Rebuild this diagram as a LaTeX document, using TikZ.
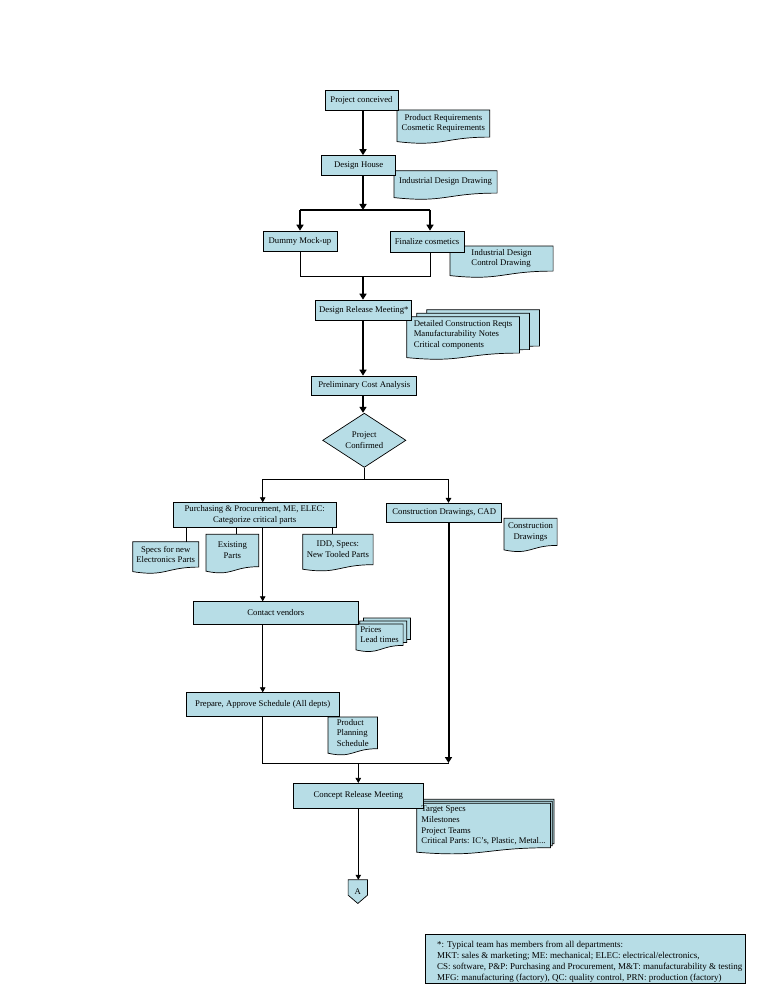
\documentclass[tikz,border=0pt]{standalone}
\usepackage{fontspec}
\setmainfont{Liberation Serif}
\usepackage{tikz}
\usetikzlibrary{arrows.meta,shapes.geometric,calc,backgrounds}

\definecolor{boxfill}{RGB}{183,221,230}

\newcommand{\docsheet}[3]{%
    \draw[docline] ($(#1.north west)+(#2,#3)$) -- ($(#1.north east)+(#2,#3)$)
        -- ($(#1.south east)+(#2,#3)$)
        .. controls ($(#1.south)+(#2,#3)$) and ($(#1.south)+(#2,#3+10)$)
        .. ($(#1.south west)+(#2,#3+4.5)$) -- cycle;}
\newcommand{\docstack}[3]{%
    \docsheet{#1}{2*#2}{2*#3}\docsheet{#1}{#2}{#3}\docsheet{#1}{0}{0}}

\begin{document}
\begin{tikzpicture}[x=1pt, y=-1pt,
    every node/.style={font=\fontsize{8.7}{10.7}\selectfont},
    process/.style={rectangle, draw, fill=boxfill, line width=0.7pt, inner sep=1pt},
    decision/.style={diamond, draw, fill=boxfill, line width=0.7pt, inner sep=0pt, align=center},
    doc/.style={rectangle, draw=none, inner sep=0pt, anchor=north west},
    docline/.style={draw, fill=boxfill, line width=0.7pt},
    thinline/.style={line width=0.7pt},
    medline/.style={line width=1.2pt},
    thickline/.style={line width=2pt},
    flow/.style={-{Triangle[length=5pt, width=5.5pt]}},
    bigflow/.style={-{Triangle[length=6pt, width=7pt]}}
    ]
    \useasboundingbox (0,0) rectangle (756,1008);

    \node (Step01) [process, minimum width=73pt, minimum height=20pt] at (361.5,100) {Project conceived};
    \node (Step02) [process, minimum width=74pt, minimum height=19.5pt] at (358.7,165.3) {Design House};
    \node (Step03) [process, minimum width=74pt, minimum height=20.5pt] at (300,241.3) {Dummy Mock-up};
    \node (Step04) [process, minimum width=74pt, minimum height=21pt] at (427,241.5) {Finalize cosmetics};
    \node (Step05) [process, minimum width=96pt, minimum height=20.5pt] at (363.8,310.3) {Design Release Meeting*};
    \node (Step06) [process, minimum width=105pt, minimum height=19pt] at (364.3,385.5) {Preliminary Cost Analysis};
    \node (Step07) [decision, minimum width=83.3pt, minimum height=37.3pt] at (364.3,440.3) {Project\\Confirmed};
    \node (Step08) [process, align=center, minimum width=162.7pt, minimum height=24.6pt] at (254.7,515)
        {Purchasing \& Procurement, ME, ELEC:\\Categorize critical parts};
    \node (Step09) [process, minimum width=115pt, minimum height=19pt] at (444.2,512.8) {Construction Drawings, CAD};
    \node (Step10) [process, minimum width=165pt, minimum height=22.6pt] at (275.8,613) {Contact vendors};
    \node (Step11) [process, minimum width=153.3pt, minimum height=24pt] at (262.7,704.7) {Prepare, Approve Schedule (All depts)};
    \node (Step12) [process, minimum width=130pt, minimum height=25pt] at (358.3,795.8) {Concept Release Meeting};
    \node (ConnA) [inner sep=0pt, minimum width=19pt, minimum height=23.3pt] at (357.8,891.6) {A};

    \node (Doc01) [doc, align=center, minimum width=92.3pt, minimum height=26.7pt] at (397,110)
        {Product Requirements\\Cosmetic Requirements};
    \node (Doc02) [doc, minimum width=102.7pt, minimum height=22pt] at (394,170.7) {Industrial Design Drawing};
    \node (Doc03) [doc, align=left, minimum width=102.7pt, minimum height=24.7pt] at (450,246)
        {Industrial Design\\Control Drawing};
    \node (Doc04) [doc, align=left, minimum width=112.3pt, minimum height=36pt] at (406.7,316.7)
        {Detailed Construction Reqts\\Manufacturability Notes\\Critical components};
    \node (Doc05) [doc, align=center, minimum width=65.6pt, minimum height=25pt] at (132.7,541.7)
        {Specs for new\\Electronics Parts};
    \node (Doc06) [doc, align=center, minimum width=52.3pt, minimum height=32pt] at (206,534.3) {Existing\\Parts};
    \node (Doc07) [doc, align=center, minimum width=70pt, minimum height=30pt] at (302.7,534.3)
        {IDD, Specs:\\New Tooled Parts};
    \node (Doc08) [doc, align=center, minimum width=52.7pt, minimum height=26.7pt] at (504,518.3)
        {Construction\\Drawings};
    \node (Doc09) [doc, align=left, minimum width=46.7pt, minimum height=21pt] at (356,624) {Prices\\Lead times};
    \node (Doc10) [doc, align=left, minimum width=49pt, minimum height=31.3pt] at (328,717)
        {Product\\Planning\\Schedule};
    \node (Doc11) [doc, align=left, minimum width=133.3pt, minimum height=44pt] at (416.7,803.3)
        {Target Specs\\Milestones\\Project Teams\\Critical Parts: IC's, Plastic, Metal...};

    \node (Legend) [anchor=west, align=left, inner sep=0pt, font=\fontsize{9}{11}\selectfont] at (437,962)
        {*: Typical team has members from all departments:\\
         MKT: sales \& marketing; ME: mechanical; ELEC: electrical/electronics,\\
         CS: software, P\&P: Purchasing and Procurement, M\&T: manufacturability \& testing\\
         MFG: manufacturing (factory), QC: quality control, PRN: production (factory)};

    \coordinate (Spine) at (363,0);
    \coordinate (SplitL) at (300,210);
    \coordinate (SplitM) at (363,210);
    \coordinate (SplitR) at (430,210);
    \coordinate (JoinL) at (300,276);
    \coordinate (JoinM) at (363,276);
    \coordinate (JoinR) at (430,276);
    \coordinate (Split2L) at (262.7,479);
    \coordinate (Split2R) at (448.5,479);
    \coordinate (Join2L) at (262.7,763);
    \coordinate (Join2M) at (358.3,763);
    \coordinate (Join2R) at (448.5,763);

    \draw[thickline, bigflow] (Step01.south -| Spine) -- (Step02.north -| Spine);
    \draw[thickline, bigflow] (Step02.south -| Spine) -- (SplitM);
    \draw[thickline] (SplitL) -- (SplitR);
    \draw[thickline, bigflow] (SplitL) -- (SplitL |- Step03.north);
    \draw[thickline, bigflow] (SplitR) -- (SplitR |- Step04.north);
    \draw[thinline] (SplitL |- Step03.south) -- (JoinL) -- (JoinR) -- (SplitR |- Step04.south);
    \draw[thickline, bigflow] (JoinM) -- (JoinM |- Step05.north);
    \draw[thickline, bigflow] (Step05.south -| Spine) -- (Step06.north -| Spine);
    \draw[thickline, bigflow] (Step06.south -| Spine) -- (Step07.north -| Spine);
    \draw[thinline] (Step07.south) -- (Step07.south |- Split2L);
    \draw[thinline] (Split2L) -- (Split2R);
    \draw[thinline, flow] (Split2L) -- (Split2L |- Step08.north);
    \draw[medline, flow] (Split2R) -- (Split2R |- Step09.north);
    \foreach \x/\d in {186.7/Doc05, 236/Doc06, 332.3/Doc07}
        \draw[thinline] (Step08.south -| \x,0) -- (\d.north -| \x,0);
    \draw[thinline, flow] (Split2L |- Step08.south) -- (Split2L |- Step10.north);
    \draw[thinline, flow] (Split2L |- Step10.south) -- (Split2L |- Step11.north);
    \draw[thinline] (Split2L |- Step11.south) -- (Join2L) -- (Join2R);
    \draw[thickline, bigflow] (Step09.south -| Join2R) -- (Join2R);
    \draw[thinline, flow] (Join2M) -- (Join2M |- Step12.north);
    \draw[thinline, flow] (Step12.south -| Join2M) -- (ConnA.north -| Join2M);

    \begin{scope}[on background layer]
        \foreach \d in {Doc01,Doc02,Doc03,Doc05,Doc06,Doc07,Doc08,Doc10}
            {\docsheet{\d}{0}{0}}
        \docstack{Doc04}{10}{-3.5}
        \docstack{Doc09}{3.7}{-3}
        \docstack{Doc11}{1.8}{-2}
        \draw[docline] (ConnA.north west) -- (ConnA.north east) -- ($(ConnA.south east)+(0,-8.3)$)
            -- (ConnA.south) -- ($(ConnA.south west)+(0,-8.3)$) -- cycle;
        \draw[docline] (425,934) rectangle (745,983);
    \end{scope}
\end{tikzpicture}
\end{document}
